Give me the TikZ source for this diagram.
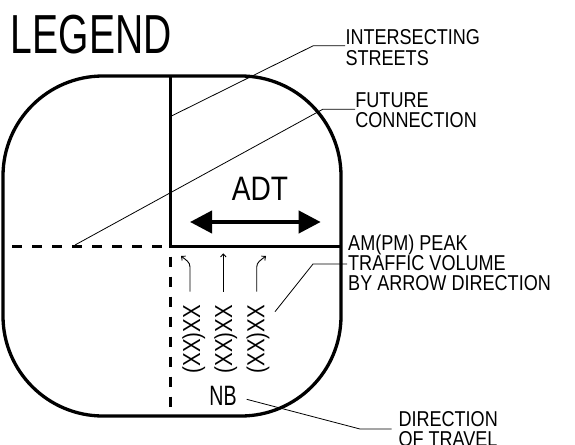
\documentclass[tikz,border=0pt]{standalone}
\usepackage{fontspec}
\setmainfont{Liberation Sans}
\newfontfamily\fLeg[FakeStretch=0.71]{Liberation Sans}
\newfontfamily\fLab[FakeStretch=0.84]{Liberation Sans}
\newfontfamily\fAdt[FakeStretch=0.83]{Liberation Sans}
\newfontfamily\fNb[FakeStretch=0.70]{Liberation Sans}
\usetikzlibrary{arrows.meta}
\begin{document}
\begin{tikzpicture}[x=1pt,y=-1pt,
  outline/.style={line width=3.3pt},
  street/.style={line width=3pt},
  future/.style={line width=3pt, dash pattern=on 10pt off 10pt},
  leader/.style={line width=0.8pt},
  lbl/.style={inner sep=0pt, anchor=base west, font=\fLab\fontsize{21.5}{20}\selectfont},
  vol/.style={inner sep=0pt, rotate=90, anchor=base, font=\fAdt\fontsize{24.6}{25}\selectfont},
  movarrow/.style={line width=0.9pt, -{Straight Barb[length=3pt,width=5.5pt]}},
  adtarrow/.style={line width=4pt, {Triangle[length=22pt,width=22pt]}-{Triangle[length=22pt,width=22pt]}}
]
\useasboundingbox (0,0) rectangle (575,444);

% outline
\draw[outline, rounded corners=100pt] (3,76) rectangle (341,416);

% streets
\coordinate (top) at (170.7,76);
\coordinate (ctr) at (170.7,246);
\coordinate (east) at (341,246);
\coordinate (west) at (12.3,246);
\coordinate (south) at (170.7,416);
\coordinate (southdash) at (170.7,256.7);
\draw[street] (top) -- (ctr) -- (east);
\draw[future] (west) -- (ctr);
\draw[future] (southdash) -- (south);

% title
\node[inner sep=0pt, anchor=base west, font=\fLeg\fontsize{55}{55}\selectfont] (legend) at (10.7,53.5) {LEGEND};

% ADT
\node[inner sep=0pt, anchor=base, font=\fAdt\fontsize{33.9}{34}\selectfont] (adt) at (260,200) {ADT};
\coordinate (adtL) at (190,222);
\coordinate (adtR) at (320.7,222);
\draw[adtarrow] (adtL) -- (adtR);

% movement arrows
\coordinate (m1a) at (190,291.7);
\coordinate (m1b) at (190,267);
\coordinate (m1c) at (181,256);
\draw[movarrow] (m1a) -- (m1b) .. controls (190,262) and (186,260) .. (m1c);
\coordinate (m2a) at (223.3,291.7);
\coordinate (m2b) at (223.3,253.3);
\draw[movarrow] (m2a) -- (m2b);
\coordinate (m3a) at (256.7,291.7);
\coordinate (m3b) at (256.7,267);
\coordinate (m3c) at (266,256);
\draw[movarrow] (m3a) -- (m3b) .. controls (256.7,262) and (261,260) .. (m3c);

% volumes
\node[vol] (v1) at (200,339) {(XX)XX};
\node[vol] (v2) at (232,339) {(XX)XX};
\node[vol] (v3) at (264.3,339) {(XX)XX};

% NB
\node[inner sep=0pt, anchor=base, font=\fNb\fontsize{28}{28}\selectfont] (nb) at (223,405) {NB};

% labels
\node[lbl] (isA) at (345.3,45) {INTERSECTING};
\node[lbl] (isB) at (345.3,65) {STREETS};
\node[lbl] (fcA) at (355.2,107.3) {FUTURE};
\node[lbl] (fcB) at (355.2,127.3) {CONNECTION};
\node[lbl] (amA) at (348,250) {AM(PM) PEAK};
\node[lbl] (amB) at (348,270) {TRAFFIC VOLUME};
\node[lbl] (amC) at (348,290) {BY ARROW DIRECTION};
\node[lbl] (dtA) at (398.3,426) {DIRECTION};
\node[lbl] (dtB) at (398.3,446) {OF TRAVEL};

% leaders
\coordinate (isP) at (171.5,116);
\coordinate (isK) at (313.3,45.7);
\coordinate (isE) at (345,45.7);
\draw[leader] (isP) -- (isK) -- (isE);

\coordinate (fcP) at (75,245);
\coordinate (fcK) at (322.7,109.3);
\coordinate (fcE) at (355,109.3);
\draw[leader] (fcP) -- (fcK) -- (fcE);

\coordinate (amP) at (275,311.7);
\coordinate (amK) at (313,264);
\coordinate (amE) at (347,264);
\draw[leader] (amP) -- (amK) -- (amE);

\coordinate (dtP) at (246.7,399.3);
\coordinate (dtK) at (360,429);
\coordinate (dtE) at (391.7,429);
\draw[leader] (dtP) -- (dtK) -- (dtE);
\end{tikzpicture}
\end{document}
